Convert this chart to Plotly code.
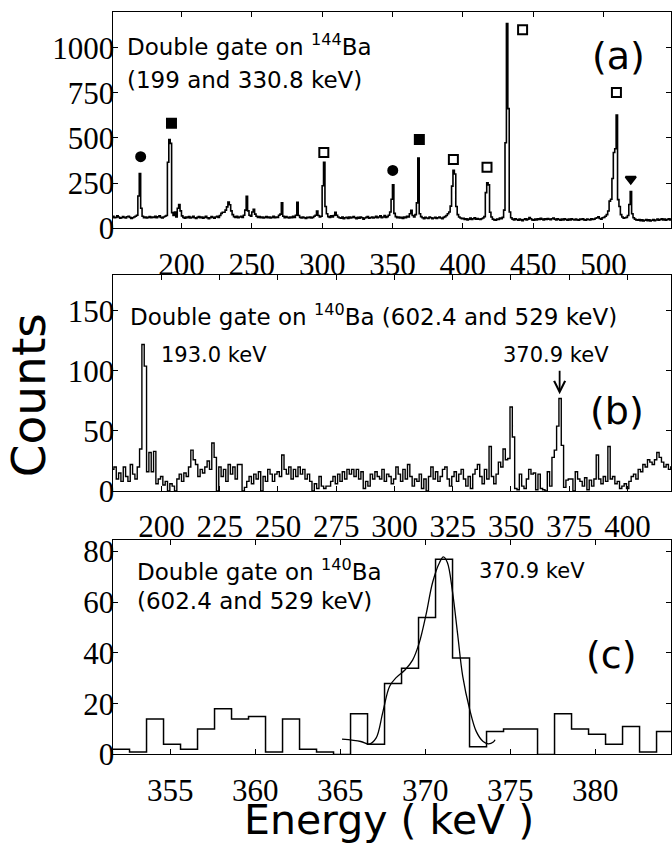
import plotly.graph_objects as go
import numpy as np

W, H = 672, 861

# ---------------- Panel (a): double gate on 144Ba, 1 keV bins from 150 keV
a_start = 150
a_counts = [
    62, 66, 58, 60, 68, 62, 55, 58, 64, 60,
    57, 63, 66, 60, 54, 58, 62, 66, 72, 178,
    302, 110, 66, 58, 62, 56, 60, 64, 58, 62,
    60, 66, 58, 63, 68, 60, 56, 62, 66, 70,
    365, 491, 470, 86, 70, 90, 62, 110, 131, 96,
    68, 60, 55, 62, 58, 64, 56, 60, 66, 58,
    54, 60, 64, 58, 62, 55, 60, 66, 58, 52,
    58, 64, 60, 55, 62, 66, 60, 70, 82, 88,
    88, 100, 118, 145, 130, 96, 75, 64, 60, 66,
    58, 62, 66, 60, 72, 100, 176, 96, 72, 66,
    90, 104, 78, 66, 60, 64, 58, 62, 56, 60,
    64, 58, 62, 56, 60, 66, 58, 62, 60, 72,
    78, 140, 66, 58, 64, 60, 56, 62, 58, 66,
    60, 72, 144, 70, 60, 56, 62, 58, 54, 60,
    58, 62, 56, 60, 66, 72, 95, 70, 62, 66,
    235, 365, 120, 80, 64, 60, 68, 62, 70, 88,
    72, 62, 58, 55, 62, 52, 58, 60, 54, 62,
    56, 60, 64, 58, 52, 60, 55, 62, 58, 50,
    56, 60, 64, 55, 58, 62, 56, 60, 66, 58,
    62, 68, 58, 62, 70, 60, 64, 72, 90, 160,
    240, 82, 64, 58, 62, 56, 60, 54, 62, 58,
    66, 62, 80, 99, 70, 62, 75, 140, 389, 80,
    64, 58, 52, 60, 56, 54, 62, 58, 52, 56,
    60, 54, 58, 62, 56, 52, 60, 64, 70, 80,
    90, 122, 233, 320, 300, 120, 75, 62, 56, 52,
    55, 48, 52, 46, 50, 56, 48, 52, 58, 50,
    54, 50, 48, 52, 56, 64, 197, 252, 240, 88,
    62, 50, 46, 44, 50, 48, 56, 52, 60, 100,
    473, 1134, 662, 90, 58, 50, 46, 52, 48, 44,
    50, 46, 42, 48, 52, 46, 50, 59, 52, 46,
    44, 50, 46, 52, 48, 55, 50, 46, 52, 48,
    54, 50, 47, 52, 56, 50, 46, 52, 48, 44,
    50, 46, 52, 48, 44, 50, 46, 52, 48, 45,
    50, 46, 44, 50, 48, 52, 46, 44, 50, 48,
    46, 52, 48, 50, 55, 58, 63, 54, 50, 58,
    60, 66, 75, 95, 150, 160, 275, 419, 440, 626,
    158, 120, 75, 62, 55, 58, 60, 70, 131, 203,
    80, 58, 50, 46, 44, 48, 42, 46, 40, 44,
    48, 42, 46, 40, 44, 48, 42, 45, 50, 44,
    48, 52, 46, 50, 44, 48, 52, 46, 50, 48,
]
a_mark_x = [171.0, 192.9, 301.2, 350.2, 369.1, 393.3, 417.2, 442.5, 509.2, 519.4]
a_mark_y = [396, 581, 419, 320, 491, 380, 338, 1099, 752, 272]
a_mark_sym = ["circle", "square", "square-open", "circle", "square",
              "square-open", "square-open", "square-open", "square-open", "triangle-down"]
a_xticks = [200, 250, 300, 350, 400, 450, 500]
a_yticks = [0, 250, 500, 750, 1000]

# ---------------- Panel (b): double gate on 140Ba, 1 keV bins from 178.6 keV
b_start = 178.6
b_counts = [
    18, 20, 10, 15, 8, 20, 12, 8, 22, 14,
    10, 20, 35, 122, 104, 16, 32, 16, 33, 6,
    10, 12, 5, 8, 0, 6, 4, 0, 10, 14,
    8, 15, 12, 20, 34, 26, 22, 12, 18, 15,
    20, 25, 18, 40, 28, 0, 20, 12, 18, 8,
    22, 14, 20, 10, 22, 22, 0, 3, 8, 12,
    6, 14, 10, 16, 0, 12, 8, 18, 14, 8,
    14, 16, 12, 30, 18, 14, 20, 10, 18, 12,
    20, 14, 18, 10, 14, 8, 0, 6, 2, 12,
    4, 2, 4, 4, 8, 12, 6, 14, 8, 16,
    10, 18, 14, 18, 12, 18, 10, 16, 2, 8,
    4, 14, 10, 16, 12, 10, 18, 8, 14, 12,
    6, 10, 20, 14, 8, 18, 10, 22, 12, 4,
    10, 8, 14, 2, 10, 0, 12, 20, 10, 16,
    8, 12, 18, 20, 10, 4, 12, 16, 8, 14,
    18, 10, 4, 12, 2, 14, 18, 22, 12, 6,
    18, 10, 37, 12, 6, 14, 24, 20, 35, 26,
    27, 70, 45, 2, 1, 14, 4, 2, 10, 18,
    14, 15, 1, 14, 2, 1, 0, 16, 4, 28,
    34, 54, 77, 38, 3, 9, 10, 10, 0, 16,
    10, 8, 4, 11, 1, 9, 4, 10, 30, 10,
    6, 12, 8, 37, 10, 12, 6, 8, 2, 4,
    6, 2, 8, 12, 14, 10, 18, 16, 22, 20,
    26, 24, 22, 26, 32, 28, 24, 20, 22, 18,
    20,
]
b_xticks = [200, 225, 250, 275, 300, 325, 350, 375, 400]
b_yticks = [0, 50, 100, 150]

# ---------------- Panel (c): zoom on 370.9 keV, 1 keV bins from 351.6 keV
c_start = 351.6
c_counts = [2, 1, 14, 4, 2, 10, 18, 14, 15, 1, 14, 2, 1, 0, 16, 4, 28,
            34, 54, 77, 38, 3, 9, 10, 10, 0, 16, 10, 8, 4, 11, 1, 9]
c_fit_x = [365.1, 366.2, 366.7, 367.1, 367.5, 367.9, 368.3, 368.8, 369.25,
           369.65, 370.04, 370.43, 370.83, 371.06, 371.3, 371.6, 371.9,
           372.2, 372.6, 373.0, 373.4, 373.7, 374.0, 374.1]
c_fit_y = [6.0, 5.1, 4.1, 6.4, 16.7, 26.9, 30.4, 33.3, 37.2, 44.2, 55.1,
           67.9, 75.6, 77.9, 75.6, 64.0, 47.4, 30.8, 18.0, 9.0, 5.1, 4.2,
           4.9, 5.8]
c_xticks = [355, 360, 365, 370, 375, 380]
c_yticks = [0, 20, 40, 60, 80]


def step_xy(start, width, counts):
    edges = [start + width * i for i in range(len(counts) + 1)]
    return edges, list(counts) + [counts[-1]]


def px(x):
    return x / W


def py(y):
    return 1 - y / H


LEFT = 112.7
TICKFONT = dict(family="Liberation Serif", size=31, color="black")
TXT = "DejaVu Sans"


def xaxis(rng, ticks, anchor):
    return dict(domain=[px(LEFT), 1], range=rng, tickmode="array", tickvals=ticks,
                showline=True, linecolor="black", linewidth=1.3, mirror="ticks",
                ticks="inside", ticklen=5, tickwidth=1.3, tickcolor="black",
                tickfont=TICKFONT, showgrid=False, zeroline=False, anchor=anchor,
                ticklabelstandoff=8)


def yaxis(top, bottom, rng, ticks, anchor):
    return dict(domain=[py(bottom), py(top)], range=rng, tickmode="array", tickvals=ticks,
                showline=True, linecolor="black", linewidth=1.3, mirror="ticks",
                ticks="inside", ticklen=5, tickwidth=1.3, tickcolor="black",
                tickfont=TICKFONT, showgrid=False, zeroline=False, anchor=anchor,
                ticklabelstandoff=-9)


fig = go.Figure()

ax_, ay_ = step_xy(a_start, 1, a_counts)
fig.add_trace(go.Scatter(x=ax_, y=ay_, mode="lines", line=dict(shape="hv", color="black", width=1.6),
                         xaxis="x", yaxis="y", showlegend=False, hoverinfo="skip"))
fig.add_trace(go.Scatter(x=a_mark_x, y=a_mark_y, mode="markers",
                         marker=dict(symbol=a_mark_sym, size=9, color="black",
                                     line=dict(color="black", width=2)),
                         xaxis="x", yaxis="y", showlegend=False, hoverinfo="skip"))

bx_, by_ = step_xy(b_start, 1, b_counts)
fig.add_trace(go.Scatter(x=bx_, y=by_, mode="lines", line=dict(shape="hv", color="black", width=1.4),
                         xaxis="x2", yaxis="y2", showlegend=False, hoverinfo="skip"))

cx_, cy_ = step_xy(c_start, 1, c_counts)
fig.add_trace(go.Scatter(x=cx_, y=cy_, mode="lines", line=dict(shape="hv", color="black", width=1.5),
                         xaxis="x3", yaxis="y3", showlegend=False, hoverinfo="skip"))
fig.add_trace(go.Scatter(x=c_fit_x, y=c_fit_y, mode="lines",
                         line=dict(shape="spline", color="black", width=1.3),
                         xaxis="x3", yaxis="y3", showlegend=False, hoverinfo="skip"))

ann = []


def text(x, y, s, size=23, xanchor="left", angle=0):
    ann.append(dict(x=px(x), y=py(y), xref="paper", yref="paper", text=s, showarrow=False,
                    xanchor=xanchor, yanchor="middle", textangle=angle,
                    font=dict(family=TXT, size=size, color="black")))


text(125, 41, "Double gate on <sup>144</sup>Ba")
text(125, 77, "(199 and 330.8 keV)")
text(619, 52, "(a)", size=38, xanchor="center")

text(128, 318, "Double gate on <sup>140</sup>Ba (602.4 and 529 keV)")
text(159, 360, "193.0 keV", size=21)
text(502, 360, "370.9 keV", size=21)
text(618, 417, "(b)", size=38, xanchor="center")

text(135, 580, "Double gate on <sup>140</sup>Ba")
text(135, 612, "(602.4 and 529 keV)")
text(478, 582, "370.9 keV", size=21)
text(612, 668, "(c)", size=38, xanchor="center")

text(28, 401, "Counts", size=47, xanchor="center", angle=-90)
text(390, 837, "Energy ( keV )", size=41, xanchor="center")

ann.append(dict(x=370.9, y=80.5, xref="x2", yref="y2", ax=0, ay=-25, showarrow=True,
                arrowhead=5, arrowsize=1.2, arrowwidth=1.8, arrowcolor="black", text=""))

fig.update_layout(
    width=W, height=H, margin=dict(l=0, r=0, t=0, b=0),
    paper_bgcolor="white", plot_bgcolor="white",
    xaxis=xaxis([151, 548], a_xticks, "y"),
    yaxis=yaxis(7.3, 229.3, [0, 1197], a_yticks, "x"),
    xaxis2=xaxis([179, 418.7], b_xticks, "y2"),
    yaxis2=yaxis(277.3, 499.3, [0, 180], b_yticks, "x2"),
    xaxis3=xaxis([351.6, 384.45], c_xticks, "y3"),
    yaxis3=yaxis(549.3, 770, [0, 84.7], c_yticks, "x3"),
    annotations=ann,
)

fig.write_html("out.html")
